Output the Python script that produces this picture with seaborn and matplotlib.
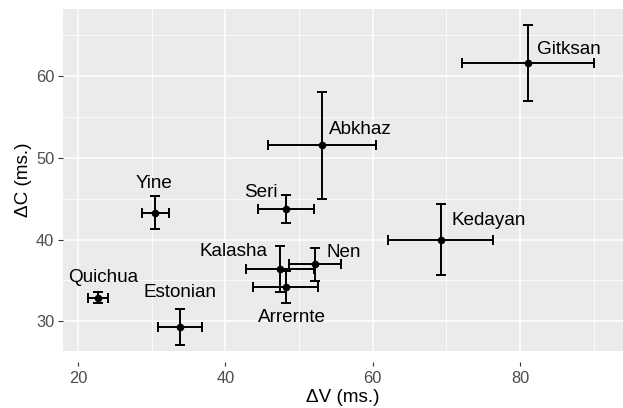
import matplotlib
matplotlib.use("Agg")
import matplotlib.pyplot as plt
import seaborn as sns
import pandas as pd
from matplotlib.ticker import MultipleLocator

# language means and error bar ranges (ms.)
languages = ["Gitksan", "Abkhaz", "Yine", "Seri", "Kedayan", "Nen",
             "Kalasha", "Arrernte", "Quichua", "Estonian"]
dv = [81.1, 53.1, 30.4, 48.2, 69.3, 52.2, 47.4, 48.2, 22.7, 33.8]
dc = [61.6, 51.5, 43.3, 43.7, 40.0, 37.0, 36.4, 34.2, 32.9, 29.3]
dv_low = [72.2, 45.8, 28.7, 44.5, 62.1, 48.6, 42.75, 43.8, 21.4, 30.8]
dv_high = [90.1, 60.4, 32.3, 52.1, 76.4, 55.7, 52.1, 52.6, 24.1, 36.9]
dc_low = [57.0, 45.0, 41.3, 42.0, 35.7, 34.9, 33.6, 32.2, 32.25, 27.1]
dc_high = [66.2, 58.1, 45.3, 45.5, 44.35, 38.9, 39.25, 36.2, 33.6, 31.5]

# label anchor points
label_x = [82.3, 54.1, 30.3, 47.1, 70.7, 53.7, 45.7, 49.1, 23.4, 33.9]
label_y = [63.3, 53.5, 46.8, 45.8, 42.3, 38.4, 38.5, 30.5, 35.4, 33.5]
label_ha = ["left", "left", "center", "right", "left", "left",
            "right", "center", "center", "center"]

df = pd.DataFrame({"lang": languages, "dv": dv, "dc": dc})

sns.set_theme(style="darkgrid", rc={
    "axes.facecolor": "#EBEBEB",
    "grid.color": "white",
    "axes.edgecolor": "#EBEBEB",
})
plt.rcParams["font.family"] = ["Liberation Sans", "DejaVu Sans"]

fig = plt.figure(figsize=(6.23, 4.08), dpi=100)
ax = fig.add_axes([0.1011, 0.1405, 0.8989, 0.8375])

xerr = [[v - lo for v, lo in zip(dv, dv_low)], [hi - v for v, hi in zip(dv, dv_high)]]
yerr = [[v - lo for v, lo in zip(dc, dc_low)], [hi - v for v, hi in zip(dc, dc_high)]]
ax.errorbar(dv, dc, xerr=xerr, yerr=yerr, fmt="none", ecolor="black",
            elinewidth=1.4, capsize=3.3, capthick=1.4, zorder=3)
sns.scatterplot(data=df, x="dv", y="dc", color="black", s=30,
                edgecolor="black", linewidth=0, ax=ax, zorder=4)

for name, lx, ly, ha in zip(languages, label_x, label_y, label_ha):
    ax.text(lx, ly, name, ha=ha, va="center", fontsize=13.6, color="black", zorder=5)

ax.set_xlim(17.96, 94.0)
ax.set_ylim(26.4, 68.2)
ax.xaxis.set_major_locator(MultipleLocator(20))
ax.xaxis.set_minor_locator(MultipleLocator(10))
ax.yaxis.set_major_locator(MultipleLocator(10))
ax.yaxis.set_minor_locator(MultipleLocator(5))
ax.grid(which="major", color="white", linewidth=1.1)
ax.grid(which="minor", color="white", linewidth=0.55)
ax.tick_params(which="major", length=3.3, width=0.8, color="#333333",
               labelsize=11.8, labelcolor="#4D4D4D", pad=3, bottom=True, left=True)
ax.tick_params(axis="x", which="major", length=3, pad=3.5)
ax.tick_params(which="minor", length=0)
for s in ax.spines.values():
    s.set_visible(False)
ax.spines["bottom"].set_position(("outward", 8))

ax.set_xlabel("ΔV (ms.)", fontsize=13.6, color="black", labelpad=2)
ax.set_ylabel("ΔC (ms.)", fontsize=13.6, color="black", labelpad=3)

fig.savefig("out.png", dpi=100)
